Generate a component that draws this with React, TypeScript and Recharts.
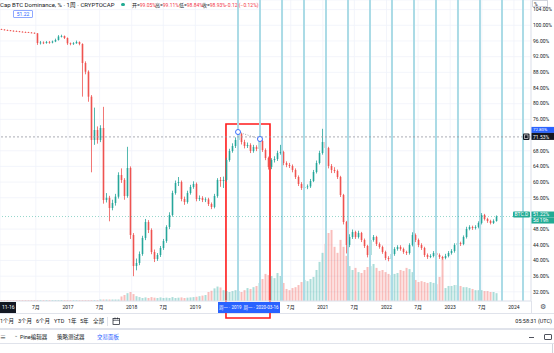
import React from 'react';
import {
  ComposedChart,
  Bar,
  XAxis,
  YAxis,
  CartesianGrid,
  ReferenceLine,
  ReferenceArea,
  ReferenceDot,
  Cell,
} from 'recharts';

// ---------- data ----------
const FIRST_OPEN = 99.05;
const START_YEAR = 2015.948; // first candle
const STEP_YEARS = 0.0471; // spacing between drawn candles

const closes = [
  98.93, 98.8, 98.72, 98.62, 98.55, 98.47, 98.37, 98.29, 98.24, 98.16,
  98.09, 97.96, 95.49, 95.61, 95.49, 95.74, 95.61, 95.87, 96.25, 97.14,
  97.27, 96.76, 95.41, 95.23, 95.41, 95.74, 95.23, 90.38, 88.16, 81.79,
  70.74, 73.29, 70.74, 73.8, 55.43, 56.0, 53.39, 54.67, 56.28, 61.81,
  60.54, 56.45, 63.6, 46.51, 38.6, 39.36, 41.66, 45.74, 49.82, 47.78,
  42.17, 40.38, 41.4, 43.19, 44.97, 48.55, 51.61, 57.22, 59.77, 60.03,
  55.69, 54.92, 57.22, 58.75, 59.52, 55.69, 55.94, 55.43, 55.6, 54.41,
  53.65, 56.45, 60.54, 60.28, 60.54, 65.64, 67.93, 69.21, 70.74, 72.27,
  70.23, 69.21, 69.46, 67.93, 68.95, 68.44, 70.49, 68.19, 66.15, 63.85,
  65.64, 65.89, 67.42, 67.68, 64.87, 64.36, 64.11, 63.09, 61.3, 59.52,
  58.5, 58.75, 58.9, 60.28, 62.58, 64.87, 67.42, 70.23, 68.7, 64.11,
  63.09, 62.83, 61.3, 56.71, 49.82, 43.95, 45.99, 47.27, 45.99, 47.02,
  45.23, 43.7, 41.4, 45.23, 45.99, 44.21, 43.44, 42.17, 40.64, 40.38,
  41.66, 42.93, 43.44, 42.93, 42.17, 41.91, 43.95, 46.51, 45.23, 43.95,
  43.19, 41.4, 40.89, 41.15, 41.91, 41.4, 40.89, 40.64, 41.15, 41.91,
  42.42, 43.95, 44.46, 44.21, 45.99, 48.04, 48.55, 48.29, 48.55, 49.57,
  51.61, 50.59, 50.08, 49.57, 50.08, 51.22,
];

const highs = [
  99.11, 99.0, 98.9, 98.8, 98.7, 98.65, 98.55, 98.45, 98.4, 98.32,
  98.25, 98.15, 98.0, 96.0, 95.9, 96.0, 96.0, 96.1, 96.6, 97.5,
  97.6, 97.4, 96.9, 95.6, 95.7, 96.1, 95.9, 95.4, 90.8, 88.5,
  82.2, 79.0, 74.2, 74.5, 79.2, 57.2, 56.5, 55.5, 57.0, 62.5,
  63.5, 61.0, 69.0, 64.0, 47.0, 40.5, 42.3, 46.3, 50.6, 50.3,
  48.2, 42.8, 41.9, 43.7, 45.5, 49.0, 52.3, 57.8, 60.4, 61.3,
  60.4, 56.3, 57.8, 59.3, 60.2, 59.9, 56.6, 56.4, 56.1, 56.0,
  54.8, 57.0, 61.0, 61.3, 61.4, 66.2, 68.5, 69.9, 71.4, 72.8,
  72.6, 70.8, 70.1, 69.9, 69.5, 69.4, 71.0, 70.8, 68.6, 66.5,
  66.1, 66.6, 68.0, 69.5, 68.0, 65.3, 64.9, 64.5, 63.5, 61.7,
  60.0, 59.3, 59.4, 60.8, 63.1, 65.5, 68.0, 73.6, 70.8, 69.0,
  64.6, 63.8, 63.2, 61.6, 57.0, 50.1, 46.7, 47.9, 47.6, 47.6,
  47.3, 45.6, 44.0, 45.8, 46.5, 46.3, 44.6, 43.8, 42.5, 41.1,
  42.1, 43.4, 43.9, 43.9, 43.3, 42.5, 44.4, 47.2, 46.9, 45.6,
  44.4, 43.5, 41.8, 41.6, 42.4, 42.3, 41.8, 41.2, 41.7, 42.4,
  42.9, 44.4, 44.9, 44.8, 46.4, 48.6, 49.0, 48.9, 49.0, 50.0,
  52.1, 51.9, 50.9, 50.4, 50.5, 51.5,
];

const lows = [
  98.84, 98.7, 98.6, 98.5, 98.4, 98.38, 98.25, 98.2, 98.12, 98.05,
  97.98, 97.85, 95.0, 95.1, 95.2, 95.3, 95.3, 95.4, 95.7, 96.1,
  96.9, 96.5, 95.0, 94.9, 95.0, 95.3, 94.9, 81.8, 87.5, 80.5,
  62.5, 69.5, 69.8, 70.2, 54.5, 54.8, 50.0, 52.8, 54.0, 55.8,
  59.8, 55.5, 56.0, 45.5, 36.0, 37.5, 38.8, 41.2, 45.2, 47.0,
  41.6, 39.6, 39.9, 40.9, 42.7, 44.5, 48.0, 51.2, 56.8, 59.0,
  55.1, 54.2, 54.5, 56.8, 58.3, 55.1, 55.2, 54.9, 54.9, 53.9,
  53.1, 53.3, 56.0, 58.8, 58.5, 60.1, 65.2, 67.5, 68.7, 70.2,
  69.6, 68.6, 68.7, 67.4, 67.5, 67.9, 68.0, 67.7, 65.6, 63.2,
  63.3, 65.0, 65.4, 67.0, 64.3, 63.8, 63.6, 62.5, 60.8, 59.0,
  58.0, 58.0, 58.2, 58.5, 60.0, 62.2, 64.5, 67.0, 68.0, 63.5,
  62.3, 62.3, 60.8, 56.2, 49.2, 41.8, 43.4, 45.5, 45.5, 45.6,
  44.7, 43.2, 40.8, 41.0, 44.8, 43.7, 43.0, 41.7, 40.1, 39.8,
  40.0, 41.2, 42.5, 42.5, 41.7, 41.4, 41.5, 43.6, 44.7, 43.4,
  42.7, 40.9, 40.4, 40.6, 40.8, 40.9, 40.4, 40.2, 40.3, 40.8,
  41.5, 42.0, 43.6, 43.7, 43.9, 45.6, 47.7, 47.8, 47.9, 48.2,
  49.2, 50.2, 49.6, 49.2, 49.3, 49.9,
];

const volumes = [
  0.3, 0.3, 0.3, 0.3, 0.3, 0.3, 0.3, 0.3, 0.3, 0.3,
  0.3, 0.3, 0.3, 0.3, 0.3, 0.3, 0.3, 0.3, 0.3, 0.3,
  0.3, 0.3, 0.3, 0.3, 0.3, 0.3, 0.3, 0.3, 0.3, 0.3,
  0.3, 0.3, 0.3, 0.5, 0.5, 0.5, 0.5, 0.5, 0.5, 0.5,
  1.5, 2.0, 2.6, 3.0, 2.3, 1.6, 1.3, 1.0, 1.2, 1.0,
  1.3, 1.1, 1.0, 1.2, 1.0, 1.1, 1.0, 1.3, 1.0, 1.1,
  1.2, 1.0, 1.1, 1.2, 1.3, 1.4, 1.6, 1.8, 2.0, 3.0,
  3.4, 4.2, 4.8, 4.5, 3.6, 3.3, 3.0, 3.3, 3.6, 3.3,
  3.0, 3.6, 4.3, 4.0, 4.6, 5.0, 6.0, 7.3, 9.0, 8.6,
  8.3, 7.6, 9.3, 8.3, 6.0, 4.0, 3.6, 4.3, 4.6, 5.3,
  6.3, 7.0, 6.6, 7.3, 8.0, 10.3, 13.0, 16.0, 19.0, 22.6,
  23.6, 18.0, 16.0, 20.3, 18.0, 15.0, 11.6, 10.3, 11.0, 9.6,
  9.3, 10.3, 11.3, 11.6, 12.3, 11.0, 10.0, 10.3, 9.6, 9.0,
  8.6, 9.0, 9.3, 10.3, 10.0, 11.0, 10.6, 9.6, 7.0, 6.3,
  6.6, 6.3, 6.0, 6.3, 6.0, 5.6, 8.0, 14.6, 4.3, 5.0,
  5.0, 5.3, 5.3, 5.0, 4.6, 4.6, 4.3, 4.0, 3.6, 3.6,
  3.6, 3.3, 3.3, 3.0, 3.0, 2.6,
];

// 7月 2019 and 2020 sit under the blue range label in the reference, so they are not drawn
const timeTicks = [
  2016.495, 2017, 2017.496, 2018, 2018.496, 2019,
  2020.497, 2021, 2021.496, 2022, 2022.496, 2023, 2023.496, 2024,
];
const priceTicks = [32, 36, 40, 44, 48, 56, 60, 64, 68, 76, 80, 84, 88, 92, 96, 100, 104];

const cycleLines = [
  2019.669, 2020.014, 2020.36, 2020.705, 2021.05, 2021.396, 2021.741,
  2022.086, 2022.432, 2022.777, 2023.122, 2023.468, 2023.813, 2024.143,
];

const LAST_PRICE = 51.22;
const CROSS_PRICE = 71.53;
const TREND_POINTS = [
  { x: 2019.669, y: 72.78 },
  { x: 2020.014, y: 70.99 },
];
const RANGE_BOX = { x1: 2019.48, x2: 2020.171, y1: 25.33, y2: 74.82 };

const X_DOMAIN: [number, number] = [2015.9325, 2024.2684];
const Y_DOMAIN: [number, number] = [29.668, 106.454];

// ---------- styles ----------
const UP = '#26a69a';
const DOWN = '#ef5350';
const VOL_UP = 'rgba(38,166,154,0.38)';
const VOL_DOWN = 'rgba(239,83,80,0.38)';
const TEAL = '#22ab94';
const BLUE = '#2962ff';
const FONT = "Roboto, 'Noto Sans CJK SC', sans-serif";

const rows = closes.map((c, i) => {
  const o = i === 0 ? FIRST_OPEN : closes[i - 1];
  return {
    t: START_YEAR + i * STEP_YEARS,
    o,
    c,
    h: highs[i],
    l: lows[i],
    range: [lows[i], highs[i]],
    vol: volumes[i],
    up: c >= o,
  };
});

const Candle = (props: any) => {
  const { x, y, width, height, payload } = props;
  if (x == null || y == null || !payload) return null;
  const top = Math.min(y, y + height);
  const H = Math.abs(height);
  const { o, c, h, l } = payload;
  const span = h - l;
  const ppu = span > 0 ? H / span : 0;
  const bTop = top + (h - Math.max(o, c)) * ppu;
  const bBot = top + (h - Math.min(o, c)) * ppu;
  const color = c >= o ? UP : DOWN;
  const cx = x + width / 2;
  return (
    <g>
      <line x1={cx} x2={cx} y1={top} y2={top + H} stroke={color} strokeWidth={0.8} />
      <rect x={x + 0.2} y={bTop} width={Math.max(1, width - 0.4)} height={Math.max(0.8, bBot - bTop)} fill={color} />
    </g>
  );
};

const LastPriceTag = (p: any) => {
  const vb = p.viewBox || {};
  const ly = vb.y;
  const rx = vb.x + vb.width;
  if (ly == null) return null;
  return (
    <g fontFamily={FONT} fontSize={5}>
      <rect x={rx - 18} y={ly - 5} width={17} height={6} fill={TEAL} rx={1} />
      <text x={rx - 16.5} y={ly - 0.3} fill="#fff">BTC.D</text>
      <rect x={rx} y={ly - 5} width={23} height={6} fill={TEAL} />
      <text x={rx + 2} y={ly - 0.3} fill="#fff">51.22%</text>
      <rect x={rx} y={ly + 1} width={23} height={6} fill={TEAL} />
      <text x={rx + 2} y={ly + 5.7} fill="#fff">5d 19h</text>
    </g>
  );
};

const CrossPriceTag = (p: any) => {
  const vb = p.viewBox || {};
  const ly = vb.y;
  const rx = vb.x + vb.width;
  if (ly == null) return null;
  return (
    <g fontFamily={FONT}>
      <rect x={rx} y={ly - 10} width={23} height={6} fill={BLUE} />
      <text x={rx + 2} y={ly - 5.6} fill="#fff" fontSize={4.4}>72.80%</text>
      <rect x={rx} y={ly - 4} width={23} height={7} fill="#131722" />
      <text x={rx + 2} y={ly + 1.6} fill="#fff" fontSize={5}>71.53%</text>
      <rect x={rx - 8} y={ly - 3.5} width={6.5} height={6.5} fill="#131722" rx={1} />
      <rect x={rx - 6.5} y={ly - 2} width={3.5} height={3.5} fill="none" stroke="#fff" strokeWidth={0.6} />
    </g>
  );
};

const timeLabel = (v: number) =>
  Math.abs(v - Math.round(v)) < 0.01 ? String(Math.round(v)) : '7月';

const txt = (extra: React.CSSProperties): React.CSSProperties => ({
  position: 'absolute',
  whiteSpace: 'nowrap',
  fontFamily: FONT,
  color: '#131722',
  ...extra,
});

export default function App() {
  return (
    <div
      style={{
        position: 'relative',
        width: 554,
        height: 353,
        overflow: 'hidden',
        background: '#ffffff',
        fontFamily: FONT,
      }}
    >
      <style>{'body{margin:0;}'}</style>

      {/* bottom panels (under the chart) */}
      <div style={{ position: 'absolute', left: 0, top: 313, width: 554, height: 1, background: '#e0e3eb' }} />
      <div style={{ position: 'absolute', left: 531, top: 301, width: 1, height: 12, background: '#e0e3eb' }} />
      <div style={{ position: 'absolute', left: 0, top: 328, width: 554, height: 2, background: '#e0e3eb' }} />
      <div style={{ position: 'absolute', left: 0, top: 343, width: 554, height: 1, background: '#e0e3eb' }} />
      <div style={{ position: 'absolute', left: 552, top: 344, width: 1, height: 9, background: '#d1d4dc' }} />

      {[
        ['1个月', 0],
        ['3个月', 18],
        ['6个月', 36],
        ['YTD', 54],
        ['1年', 68],
        ['5年', 80],
        ['全部', 93],
      ].map(([label, x]) => (
        <div key={String(label)} style={txt({ left: x as number, top: 318, fontSize: 5.5, lineHeight: '7px' })}>
          {label}
        </div>
      ))}
      <div style={{ position: 'absolute', left: 107, top: 317, width: 1, height: 9, background: '#e0e3eb' }} />
      <svg style={{ position: 'absolute', left: 112, top: 317 }} width={9} height={9}>
        <rect x={1} y={1.5} width={6.5} height={6} fill="none" stroke="#131722" strokeWidth={0.7} />
        <line x1={1} x2={7.5} y1={3.3} y2={3.3} stroke="#131722" strokeWidth={0.6} />
        <line x1={3} x2={3} y1={0.5} y2={2.3} stroke="#131722" strokeWidth={0.6} />
        <line x1={5.5} x2={5.5} y1={0.5} y2={2.3} stroke="#131722" strokeWidth={0.6} />
      </svg>
      <div style={txt({ right: 2, top: 318, fontSize: 5.5, lineHeight: '7px' })}>05:58:31 (UTC)</div>

      <div style={txt({ left: 0, top: 333, fontSize: 6, lineHeight: '7px' })}>≡</div>
      <div style={txt({ left: 14, top: 332, fontSize: 5, lineHeight: '7px', color: '#50535e' })}>⌄</div>
      <div style={txt({ left: 20, top: 333.5, fontSize: 5.5, lineHeight: '7px' })}>Pine编辑器</div>
      <div style={txt({ left: 57, top: 333.5, fontSize: 5.5, lineHeight: '7px' })}>策略测试器</div>
      <div style={txt({ left: 97, top: 333.5, fontSize: 5.5, lineHeight: '7px', color: BLUE })}>交易面板</div>
      <div style={{ position: 'absolute', left: 529, top: 337, width: 5, height: 1, background: '#50535e' }} />
      <div
        style={{
          position: 'absolute',
          left: 544,
          top: 334,
          width: 6,
          height: 4,
          border: '0.8px solid #50535e',
          borderRadius: 1,
        }}
      />

      {/* chart */}
      <div style={{ position: 'absolute', left: 0, top: 0, zIndex: 1 }}>
        <ComposedChart
          width={554}
          height={320}
          data={rows}
          margin={{ top: 0, right: 0, bottom: 0, left: 0 }}
        >
          <CartesianGrid stroke="#f0f3fa" strokeWidth={0.8} yAxisId="p" />
          <XAxis
            dataKey="t"
            type="number"
            domain={X_DOMAIN}
            allowDataOverflow
            ticks={timeTicks}
            interval={0}
            tickFormatter={timeLabel}
            height={19}
            tickSize={0}
            tickMargin={4}
            tickLine={false}
            axisLine={{ stroke: '#e0e3eb' }}
            tick={{ fontSize: 5, fill: '#131722', fontFamily: FONT }}
          />
          <XAxis xAxisId="v" dataKey="t" type="number" domain={X_DOMAIN} allowDataOverflow hide />
          <YAxis
            yAxisId="p"
            orientation="right"
            width={23}
            domain={Y_DOMAIN}
            allowDataOverflow
            ticks={priceTicks}
            interval={0}
            tickFormatter={(v: number) => v.toFixed(2) + '%'}
            tickSize={0}
            tickMargin={2}
            tickLine={false}
            axisLine={{ stroke: '#e0e3eb' }}
            tick={{ fontSize: 5, fill: '#131722', fontFamily: FONT, textAnchor: 'start' }}
          />
          <YAxis yAxisId="vol" hide domain={[0, 100]} allowDataOverflow />

          {cycleLines.map((d) => (
            <ReferenceLine key={d} x={d} yAxisId="p" stroke="#abdbe6" strokeWidth={2} ifOverflow="visible" />
          ))}

          <Bar
            dataKey="vol"
            xAxisId="v"
            yAxisId="vol"
            barSize={2}
            isAnimationActive={false}
          >
            {rows.map((r, i) => (
              <Cell key={i} fill={r.up ? VOL_UP : VOL_DOWN} />
            ))}
          </Bar>

          <ReferenceLine
            y={LAST_PRICE}
            yAxisId="p"
            stroke={TEAL}
            strokeOpacity={0.6}
            strokeDasharray="1 2"
            strokeWidth={0.8}
            label={(p: any) => <LastPriceTag {...p} />}
          />
          <ReferenceLine
            y={CROSS_PRICE}
            yAxisId="p"
            stroke="#9598a1"
            strokeDasharray="2 2"
            strokeWidth={0.8}
            label={(p: any) => <CrossPriceTag {...p} />}
          />

          <Bar dataKey="range" yAxisId="p" barSize={2} shape={Candle} isAnimationActive={false} />

          <ReferenceLine
            yAxisId="p"
            segment={TREND_POINTS}
            stroke="#9598a1"
            strokeDasharray="1 1.5"
            strokeWidth={0.8}
          />
          {TREND_POINTS.map((pt) => (
            <ReferenceDot
              key={pt.x}
              yAxisId="p"
              x={pt.x}
              y={pt.y}
              r={2.5}
              fill="#ffffff"
              stroke={BLUE}
              strokeWidth={0.9}
            />
          ))}
          <ReferenceArea
            yAxisId="p"
            x1={RANGE_BOX.x1}
            x2={RANGE_BOX.x2}
            y1={RANGE_BOX.y1}
            y2={RANGE_BOX.y2}
            ifOverflow="visible"
            fill="none"
            fillOpacity={0}
            stroke="#ff1a1a"
            strokeWidth={1.6}
          />
        </ComposedChart>
      </div>

      {/* overlays */}
      <div style={{ position: 'absolute', left: 0, top: 0, zIndex: 2, width: 554, height: 353, pointerEvents: 'none' }}>
        <div style={txt({ left: 0, top: 1, fontSize: 6, lineHeight: '7px' })}>
          Cap BTC Dominance, % · 1周 · CRYPTOCAP
        </div>
        <div style={{ position: 'absolute', left: 121, top: 2.5, width: 3.5, height: 3.5, borderRadius: 2, background: TEAL }} />
        {[
          ['开', '99.05%', 132],
          ['高', '99.11%', 155],
          ['低', '98.84%', 179],
          ['收', '98.93%', 202],
        ].map(([k, v, x]) => (
          <div key={String(k)} style={txt({ left: x as number, top: 1.5, fontSize: 5, lineHeight: '6px' })}>
            {k}=<span style={{ color: '#f23645' }}>{v}</span>
          </div>
        ))}
        <div style={txt({ left: 225, top: 1.5, fontSize: 5, lineHeight: '6px', color: '#f23645' })}>−0.12 (−0.12%)</div>

        <div
          style={txt({
            left: 13,
            top: 10,
            width: 18,
            height: 6,
            border: '0.8px solid #8fa8ff',
            borderRadius: 1,
            fontSize: 5,
            lineHeight: '6px',
            color: BLUE,
            textAlign: 'center',
          })}
        >
          51.22
        </div>

        <div
          style={txt({
            left: 532,
            top: 0,
            width: 16,
            height: 7,
            border: '0.8px solid #d1d4dc',
            background: '#fff',
            fontSize: 5,
            lineHeight: '7px',
            paddingLeft: 1,
            boxSizing: 'border-box',
          })}
        >
          %
        </div>

        {/* crosshair time label */}
        <div
          style={txt({
            left: 0,
            top: 302,
            width: 16,
            height: 11,
            background: '#131722',
            color: '#fff',
            fontSize: 5,
            lineHeight: '11px',
            textAlign: 'right',
            paddingRight: 1.5,
            boxSizing: 'border-box',
          })}
        >
          11-16
        </div>
        {/* range time labels */}
        <div
          style={txt({
            left: 218,
            top: 302,
            width: 62,
            height: 11,
            background: BLUE,
            color: '#fff',
            fontSize: 4.5,
            lineHeight: '11px',
          })}
        >
          <span style={{ position: 'absolute', left: 1 }}>周一 · 2019</span>
          <span style={{ position: 'absolute', left: 25.5 }}>周一 · 2020-03-16</span>
        </div>
        <div style={txt({ left: 540, top: 303, fontSize: 7, lineHeight: '8px', color: '#50535e' })}>⚙</div>
      </div>
    </div>
  );
}
